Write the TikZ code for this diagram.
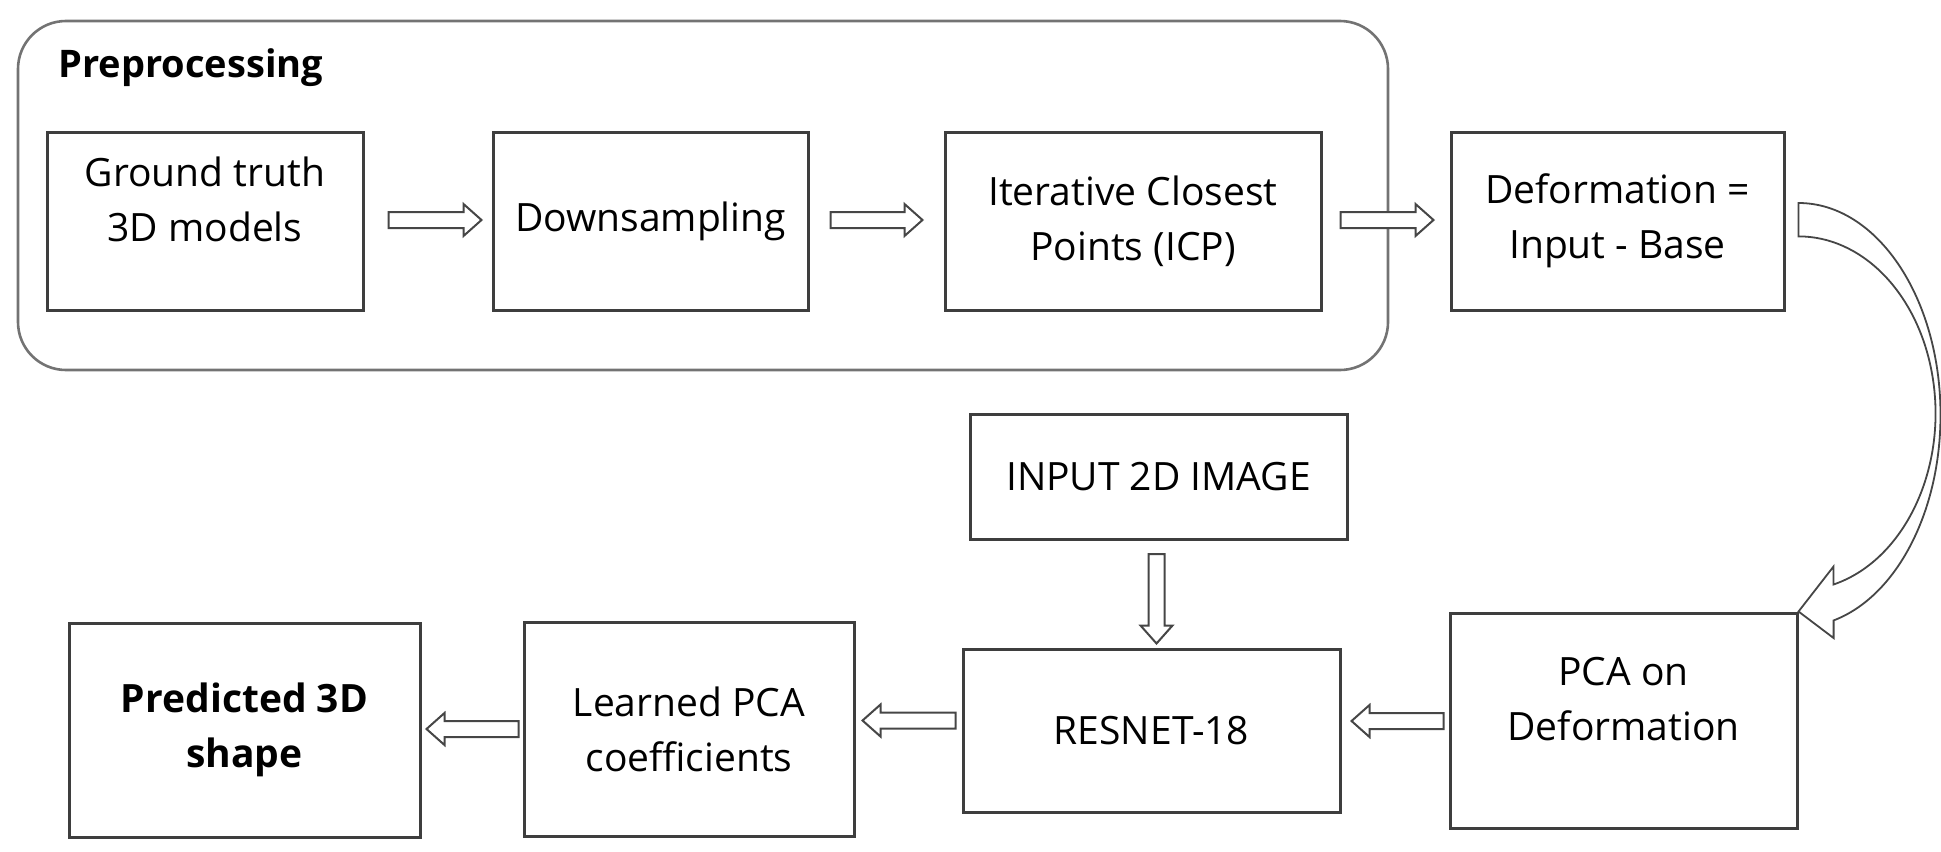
\documentclass[tikz,border=0pt]{standalone}
\usepackage{fontspec}
\setmainfont{Open Sans}
\usetikzlibrary{calc}
\definecolor{boxline}{RGB}{62,62,62}
\definecolor{grpline}{RGB}{115,115,115}
\definecolor{arrline}{RGB}{70,70,70}
\tikzset{
  box/.style={draw=boxline, line width=1.5pt, fill=white, align=center, inner sep=0pt,
    font=\fontsize{19.5pt}{27.5pt}\selectfont},
  grp/.style={draw=grpline, line width=1.3pt, rounded corners=24pt, inner sep=0pt},
  barrow/.style={draw=arrline, line width=1pt, fill=white, line join=miter,
    to path={
      ($(\tikztostart)!4pt!90:(\tikztotarget)$) --
      ($(\tikztotarget)!9pt!(\tikztostart)!4pt!-90:(\tikztostart)$) --
      ($(\tikztotarget)!9pt!(\tikztostart)!8pt!-90:(\tikztostart)$) --
      (\tikztotarget) --
      ($(\tikztotarget)!9pt!(\tikztostart)!8pt!90:(\tikztostart)$) --
      ($(\tikztotarget)!9pt!(\tikztostart)!4pt!90:(\tikztostart)$) --
      ($(\tikztostart)!4pt!-90:(\tikztotarget)$) -- cycle
    }},
  curvarr/.style={draw=arrline, line width=0.9pt, fill=white, line join=miter},
  title/.style={font=\fontsize{19pt}{26pt}\selectfont\bfseries, inner sep=0pt}
}
\begin{document}
\begin{tikzpicture}[x=0.5pt, y=-0.5pt]
\useasboundingbox (0,0) rectangle (1941,851);

% group frame
\node[grp, minimum width=685pt, minimum height=174.5pt] (grp) at (703,195.5) {};
\node[title, anchor=base west] (pre) at (58,77) {Preprocessing};

% top row
\node[box, minimum width=158pt, minimum height=89pt] (gt) at (205,221)
  {Ground truth\\3D models\\[-6pt]\mbox{}};
\node[box, minimum width=157.5pt, minimum height=89pt] (down) at (650.5,221) {Downsampling};
\node[box, minimum width=188pt, minimum height=89pt] (icp) at (1133,221)
  {Iterative Closest\\Points (ICP)};
\node[box, minimum width=166.5pt, minimum height=89pt] (deform) at (1617.5,221)
  {Deformation =\\Input - Base};

% bottom rows
\node[box, minimum width=188.5pt, minimum height=62.5pt] (inp) at (1158.5,476.5) {INPUT 2D IMAGE};
\node[box, minimum width=188.5pt, minimum height=81.5pt] (resnet) at (1151.5,730.5) {RESNET-18};
\node[box, minimum width=173.5pt, minimum height=107.5pt] (pca) at (1623.5,720.5)
  {PCA on\\Deformation\\[-6pt]\mbox{}};
\node[box, minimum width=165pt, minimum height=107pt] (learn) at (689,729)
  {Learned PCA\\coefficients};
\node[box, minimum width=175.5pt, minimum height=107pt, font=\fontsize{19.5pt}{27.5pt}\selectfont\bfseries] (pred) at (244.5,730)
  {Predicted 3D\\shape};

% arrow end points
\coordinate (a1s) at ($(gt.east)+(24,-1)$);
\coordinate (a1e) at ($(down.west)+(-10,-1)$);
\coordinate (a2s) at ($(down.east)+(21,-1)$);
\coordinate (a2e) at ($(icp.west)+(-21,-1)$);
\coordinate (a3s) at ($(icp.east)+(18,-1)$);
\coordinate (a3e) at ($(deform.west)+(-16,-1)$);
\coordinate (a4s) at ($(pca.west)+(-5,0.5)$);
\coordinate (a4e) at ($(resnet.east)+(10,-9.5)$);
\coordinate (a5s) at ($(resnet.west)+(-6,-10)$);
\coordinate (a5e) at ($(learn.east)+(7,-8.5)$);
\coordinate (a6s) at ($(learn.west)+(-4,0)$);
\coordinate (a6e) at ($(pred.east)+(5,-1)$);
\coordinate (a7s) at ($(inp.south)+(-2,13.5)$);
\coordinate (a7e) at ($(resnet.north)+(5,-4)$);

\draw[barrow] (a1s) to (a1e);
\draw[barrow] (a2s) to (a2e);
\draw[barrow] (a3s) to (a3e);
\draw[barrow] (a4s) to (a4e);
\draw[barrow] (a5s) to (a5e);
\draw[barrow] (a6s) to (a6e);
\draw[barrow] (a7s) to (a7e);

% curved arrow from Deformation to PCA
\coordinate (cstart) at ($(deform.east)+(13,-18)$);
\draw[curvarr] (cstart)
  arc[start angle=-90, end angle=75.7, x radius=142, y radius=212]
  -- ++(0,17.6) -- (pca.north east) -- ++(35,-45) -- ++(0,18)
  arc[start angle=75.2, end angle=-90, x radius=137, y radius=177]
  -- cycle;
\end{tikzpicture}
\end{document}
